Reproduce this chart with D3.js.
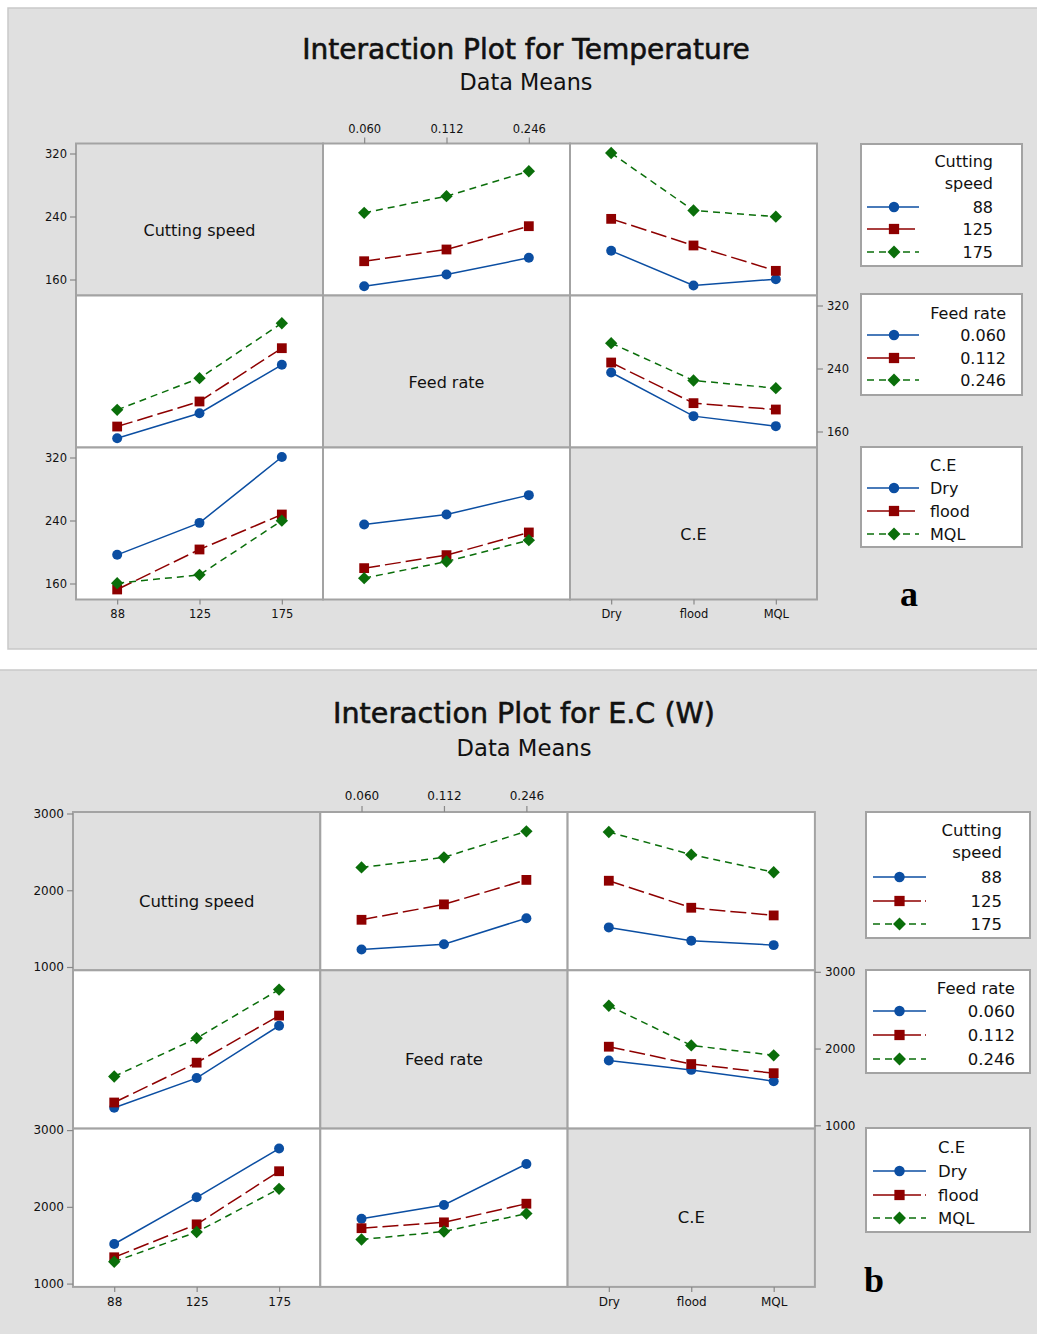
<!DOCTYPE html>
<html><head><meta charset="utf-8">
<script src="https://cdn.jsdelivr.net/npm/d3@7"></script>
<style>body{margin:0;background:#fff}svg{display:block}</style>
</head><body>
<svg id="c" width="1037" height="1334"></svg>
<script>
// ---------- DATA ----------
const speedLevels = ["88", "125", "175"];
const feedLevels = ["0.060", "0.112", "0.246"];
const ceLevels = ["Dry", "flood", "MQL"];
const factorNames = ["Cutting speed", "Feed rate", "C.E"];
const legendTitles = [["Cutting", "speed"], ["Feed rate"], ["C.E"]];

// (a) Temperature
const tempTitle = "Interaction Plot for Temperature";
const tempSubtitle = "Data Means";
const tempTicks = [160, 240, 320];
// rows: cutting speed 88/125/175 ; cols: feed 0.060/0.112/0.246
const tempSpeedFeed = [[151.5, 166.3, 187.5], [183.2, 198.1, 227.7], [244.7, 265.8, 297.5]];
// rows: cutting speed ; cols: Dry/flood/MQL
const tempSpeedCE = [[196.4, 152.4, 160.4], [237.0, 203.2, 171.0], [320.6, 247.6, 239.8]];
// rows: feed ; cols: Dry/flood/MQL
const tempFeedCE = [[234.9, 179.5, 166.8], [247.6, 196.0, 187.9], [272.2, 224.8, 215.0]];

// (b) E.C (W)
const ecTitle = "Interaction Plot for E.C (W)";
const ecSubtitle = "Data Means";
const ecTicks = [1000, 2000, 3000];
const ecSpeedFeed = [[1228, 1297, 1636], [1615, 1816, 2135], [2297, 2429, 2768]];
const ecSpeedCE = [[1516, 1343, 1285], [2124, 1772, 1672], [2759, 2464, 2235]];
const ecFeedCE = [[1844, 1722, 1575], [2024, 1798, 1679], [2558, 2041, 1912]];

// ---------- STYLE ----------
const levelsByFactor = [speedLevels, feedLevels, ceLevels];
const colors = ["#0b4ea2", "#8e0000", "#0a6e0a"];
const dashes = [null, "16,5", "7,5"];
const FONT = "'DejaVu Sans', sans-serif";
const BG = "#e0e0e0", GRID = "#a3a3a3";

const svg = d3.select("#c");

function symbolPath(i, scale) {
  const s = scale || 1;
  if (i === 0) return d3.symbol().type(d3.symbolCircle).size(78 * s)();
  if (i === 1) return d3.symbol().type(d3.symbolSquare).size(96 * s)();
  return d3.symbol().type(d3.symbolSquare).size(76 * s)();
}
function symbolRot(i) { return i === 2 ? " rotate(45)" : ""; }

function meanOf(m, fi, li, fj, lj) {
  if (fi === 0 && fj === 1) return m.sf[li][lj];
  if (fi === 1 && fj === 0) return m.sf[lj][li];
  if (fi === 0 && fj === 2) return m.sc[li][lj];
  if (fi === 2 && fj === 0) return m.sc[lj][li];
  if (fi === 1 && fj === 2) return m.fc[li][lj];
  return m.fc[lj][li];
}

function fitText(t, target) {
  const fs = parseFloat(t.attr("font-size"));
  const w = t.node().getComputedTextLength();
  t.attr("font-size", fs * target / w);
}

function drawChart(c) {
  const g = svg.append("g");
  g.append("rect").attr("x", c.bg[0]).attr("y", c.bg[1]).attr("width", c.bg[2]).attr("height", c.bg[3])
    .attr("fill", BG).attr("stroke", "#c9c9c9").attr("stroke-width", 1.5);

  const t1 = g.append("text").attr("x", c.cx).attr("y", c.titleY).attr("text-anchor", "middle")
    .attr("font-family", FONT).attr("font-size", 26).attr("fill", "#111")
    .attr("stroke", "#111").attr("stroke-width", 0.6).text(c.title);
  fitText(t1, c.titleW);
  const t2 = g.append("text").attr("x", c.cx).attr("y", c.subY).attr("text-anchor", "middle")
    .attr("font-family", FONT).attr("font-size", 19).attr("fill", "#111").text(c.subtitle);
  fitText(t2, c.subW);

  const colX = i => c.gridLeft + i * c.colW;
  const rowY = i => c.gridTop + i * c.rowH;
  const xScales = levelsByFactor.map((lv, j) =>
    d3.scalePoint().domain(lv).range([colX(j), colX(j + 1)]).padding(0.5));
  const yScales = [0, 1, 2].map(i =>
    d3.scaleLinear().domain([c.ticks[0], c.ticks[2]]).range([rowY(i) + c.yOffLow, rowY(i) + c.yOffHigh]));

  // panels
  for (let i = 0; i < 3; i++) for (let j = 0; j < 3; j++) {
    g.append("rect").attr("x", colX(j)).attr("y", rowY(i)).attr("width", c.colW).attr("height", c.rowH)
      .attr("fill", i === j ? BG : "#fff").attr("stroke", GRID).attr("stroke-width", 2);
    if (i === j) {
      g.append("text").attr("x", colX(j) + c.colW / 2).attr("y", rowY(i) + c.rowH / 2 + c.labelDy)
        .attr("text-anchor", "middle").attr("dominant-baseline", "central")
        .attr("font-family", FONT).attr("font-size", c.labelFs).attr("fill", "#111").text(factorNames[i]);
    }
  }

  // axes
  function styleAxis(sel) {
    sel.select(".domain").remove();
    sel.selectAll("line").attr("stroke", "#888").attr("stroke-width", 1.2);
    sel.selectAll("text").attr("font-family", FONT).attr("font-size", c.tickFs).attr("fill", "#111");
  }
  const fmt = d3.format("d");
  [0, 2].forEach(i => {
    g.append("g").attr("transform", `translate(${c.gridLeft},0)`)
      .call(d3.axisLeft(yScales[i]).tickValues(c.ticks).tickFormat(fmt).tickSize(6).tickPadding(3)).call(styleAxis);
  });
  g.append("g").attr("transform", `translate(${colX(3)},0)`)
    .call(d3.axisRight(yScales[1]).tickValues(c.ticks).tickFormat(fmt).tickSize(6).tickPadding(4)).call(styleAxis);
  g.append("g").attr("transform", `translate(0,${c.gridTop})`)
    .call(d3.axisTop(xScales[1]).tickSize(6).tickPadding(c.topPad)).call(styleAxis);
  [0, 2].forEach(j => {
    g.append("g").attr("transform", `translate(0,${rowY(3)})`)
      .call(d3.axisBottom(xScales[j]).tickSize(5).tickPadding(c.botPad)).call(styleAxis);
  });

  // interaction lines
  for (let i = 0; i < 3; i++) for (let j = 0; j < 3; j++) {
    if (i === j) continue;
    const xs = xScales[j], ys = yScales[i];
    levelsByFactor[i].forEach((lvl, li) => {
      const pts = levelsByFactor[j].map((xl, lj) => [xs(xl), ys(meanOf(c.means, i, li, j, lj))]);
      g.append("path").attr("d", d3.line()(pts)).attr("fill", "none")
        .attr("stroke", colors[li]).attr("stroke-width", 1.5)
        .attr("stroke-dasharray", dashes[li]);
      pts.forEach(p => {
        g.append("path").attr("d", symbolPath(li)).attr("fill", colors[li])
          .attr("transform", `translate(${p[0]},${p[1]})${symbolRot(li)}`);
      });
    });
  }

  // legends
  c.legends.forEach((L, i) => {
    g.append("rect").attr("x", c.legX).attr("y", L.top).attr("width", c.legW).attr("height", L.h)
      .attr("fill", "#fff").attr("stroke", GRID).attr("stroke-width", 2);
    const anchor = L.align;
    legendTitles[i].forEach((tt, k) => {
      g.append("text").attr("x", c.legX + L.tx).attr("y", L.top + L.titleRows[k])
        .attr("text-anchor", anchor).attr("dominant-baseline", "central")
        .attr("font-family", FONT).attr("font-size", c.legFs).attr("fill", "#111").text(tt);
    });
    levelsByFactor[i].forEach((lvl, li) => {
      const yy = L.top + L.rows[li];
      g.append("line").attr("x1", c.legX + c.symL).attr("x2", c.legX + c.symR)
        .attr("y1", yy).attr("y2", yy).attr("stroke", colors[li]).attr("stroke-width", 1.5)
        .attr("stroke-dasharray", li === 1 ? "22,4" : dashes[li]);
      g.append("path").attr("d", symbolPath(li, 1.1)).attr("fill", colors[li])
        .attr("transform", `translate(${c.legX + c.symC},${yy})${symbolRot(li)}`);
      g.append("text").attr("x", c.legX + L.tx).attr("y", yy)
        .attr("text-anchor", anchor).attr("dominant-baseline", "central")
        .attr("font-family", FONT).attr("font-size", c.legFs).attr("fill", "#111").text(lvl);
    });
  });

  g.append("text").attr("x", c.tag[1]).attr("y", c.tag[2]).attr("text-anchor", "middle")
    .attr("font-family", "'Liberation Serif', serif").attr("font-weight", "bold")
    .attr("font-size", 36).attr("fill", "#000").text(c.tag[0]);
}

drawChart({
  bg: [8, 8, 1040, 641], title: tempTitle, subtitle: tempSubtitle, cx: 526,
  titleY: 59, titleW: 448, subY: 90, subW: 133,
  gridLeft: 76, gridTop: 143.5, colW: 247, rowH: 152, yOffHigh: 10, yOffLow: 136,
  ticks: tempTicks, means: { sf: tempSpeedFeed, sc: tempSpeedCE, fc: tempFeedCE },
  tickFs: 11.5, labelFs: 16, labelDy: 11, legFs: 16, topPad: 5, botPad: 5,
  legX: 861, legW: 161, symL: 6, symR: 58, symC: 33,
  legends: [
    { top: 144, h: 122, titleRows: [17, 39], rows: [63, 85, 108], align: "end", tx: 132 },
    { top: 294, h: 101, titleRows: [19], rows: [41, 64, 86], align: "end", tx: 145 },
    { top: 447, h: 100, titleRows: [18], rows: [41, 64, 87], align: "start", tx: 69 }
  ],
  tag: ["a", 909, 606]
});

drawChart({
  bg: [-2, 670, 1042, 670], title: ecTitle, subtitle: ecSubtitle, cx: 524,
  titleY: 723, titleW: 382, subY: 756, subW: 135,
  gridLeft: 73, gridTop: 812, colW: 247.3, rowH: 158.3, yOffHigh: 1.5, yOffLow: 155,
  ticks: ecTicks, means: { sf: ecSpeedFeed, sc: ecSpeedCE, fc: ecFeedCE },
  tickFs: 12, labelFs: 16.5, labelDy: 10, legFs: 16.5, topPad: 6, botPad: 6,
  legX: 866, legW: 164, symL: 7, symR: 60, symC: 33.5,
  legends: [
    { top: 812, h: 126, titleRows: [18, 40], rows: [65, 89, 112], align: "end", tx: 136 },
    { top: 970, h: 103, titleRows: [18], rows: [41, 65, 89], align: "end", tx: 149 },
    { top: 1128, h: 104, titleRows: [19], rows: [43, 67, 90], align: "start", tx: 72 }
  ],
  tag: ["b", 874, 1292]
});
</script>
</body></html>
